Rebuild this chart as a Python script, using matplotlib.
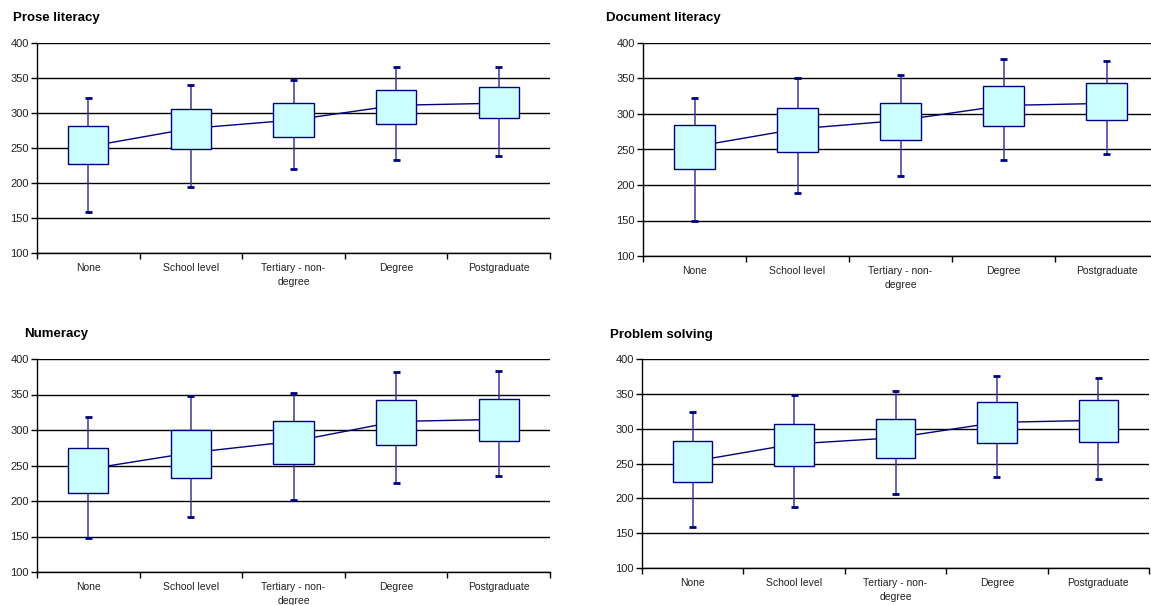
# Box plots of literacy scores by highest qualification, four skill domains
import matplotlib.pyplot as plt

plt.rcParams['font.family'] = ['Liberation Sans', 'DejaVu Sans']

# Categories on the x axis
categories = ['None', 'School level', 'Tertiary - non-\ndegree', 'Degree', 'Postgraduate']

# Prose literacy
prose_high = [321, 340, 347, 365, 365]
prose_q3 = [282, 305, 314, 333, 337]
prose_mean = [252, 278, 290, 311, 314]
prose_q1 = [227, 249, 266, 284, 293]
prose_low = [158, 195, 220, 233, 238]

# Document literacy
doc_high = [322, 351, 355, 378, 374]
doc_q3 = [284, 308, 316, 339, 344]
doc_mean = [254, 279, 291, 312, 315]
doc_q1 = [223, 246, 264, 283, 291]
doc_low = [150, 189, 212, 235, 244]

# Numeracy
num_high = [318, 348, 352, 382, 383]
num_q3 = [274, 300, 313, 342, 344]
num_mean = [245, 268, 284, 312, 315]
num_q1 = [211, 233, 252, 279, 284]
num_low = [148, 177, 201, 225, 235]

# Problem solving
prob_high = [324, 349, 354, 376, 373]
prob_q3 = [282, 307, 314, 338, 341]
prob_mean = [253, 278, 287, 309, 312]
prob_q1 = [224, 246, 258, 279, 281]
prob_low = [159, 187, 206, 231, 228]

NAVY = '#000080'
FILL = '#CCFFFF'

W, H = 1151, 605
fig = plt.figure(figsize=(W / 100, H / 100), dpi=100)


def px_axes(left, top, right, bottom):
    # axes from pixel coordinates
    return fig.add_axes([left / W, 1 - bottom / H, (right - left) / W, (bottom - top) / H])


def draw_panel(ax, low, q1, mean, q3, high):
    x = list(range(len(categories)))
    ax.vlines(x, low, high, color='#3A3A9A', lw=1.1, zorder=2)
    ax.hlines(low, [i - 0.035 for i in x], [i + 0.035 for i in x], color=NAVY, lw=2, zorder=2)
    ax.hlines(high, [i - 0.035 for i in x], [i + 0.035 for i in x], color=NAVY, lw=2, zorder=2)
    ax.plot(x, mean, color=NAVY, lw=1, zorder=2)
    heights = [b - a for a, b in zip(q1, q3)]
    ax.bar(x, heights, bottom=q1, width=0.39, color=FILL, edgecolor=NAVY, lw=1, zorder=3)

    ax.set_xlim(-0.5, 4.5)
    ax.set_ylim(100, 400)
    ax.set_yticks(range(100, 401, 50))
    ax.yaxis.grid(True, color='black', lw=1)
    ax.set_axisbelow(True)
    ax.set_xticks(x)
    ax.set_xticklabels(categories, fontsize=7.5, color='#222222', linespacing=1.5)
    ax.set_xticks([i - 0.5 for i in range(6)], minor=True)
    ax.tick_params(axis='x', which='major', length=0, pad=7)
    ax.tick_params(axis='x', which='minor', length=4, width=1, direction='out')
    ax.tick_params(axis='y', length=4, width=1, labelsize=8, labelcolor='#222222', pad=2)
    for s in ['top', 'right']:
        ax.spines[s].set_visible(False)
    for s in ['left', 'bottom']:
        ax.spines[s].set_color('black')
        ax.spines[s].set_linewidth(1)


ax1 = px_axes(37, 43, 550, 253)
draw_panel(ax1, prose_low, prose_q1, prose_mean, prose_q3, prose_high)
ax2 = px_axes(643, 43, 1158, 256)
draw_panel(ax2, doc_low, doc_q1, doc_mean, doc_q3, doc_high)
ax3 = px_axes(37, 359, 550, 572)
draw_panel(ax3, num_low, num_q1, num_mean, num_q3, num_high)
ax4 = px_axes(642, 359, 1149, 568)
draw_panel(ax4, prob_low, prob_q1, prob_mean, prob_q3, prob_high)

title_kw = dict(fontsize=9.5, fontweight='bold', va='center', ha='left')
fig.text(13 / W, 1 - 18 / H, 'Prose literacy', **title_kw)
fig.text(606 / W, 1 - 18 / H, 'Document literacy', **title_kw)
fig.text(24 / W, 1 - 334 / H, 'Numeracy', **title_kw)
fig.text(610 / W, 1 - 335 / H, 'Problem solving', **title_kw)

fig.savefig('out.png', dpi=100, facecolor='white')
